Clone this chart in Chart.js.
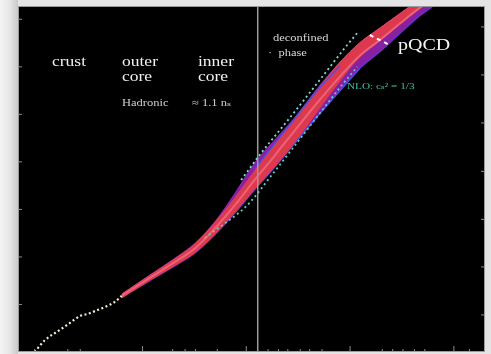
<!DOCTYPE html>
<html>
<head>
<meta charset="utf-8">
<script src="https://cdn.jsdelivr.net/npm/chart.js@4.4.1/dist/chart.umd.min.js"></script>
<style>
  html, body { margin: 0; padding: 0; }
  body { width: 491px; height: 354px; background: #e4e4e4; position: relative; overflow: hidden; }
  .edge { position: absolute; left: 0; top: 0; width: 18px; height: 354px;
          background: linear-gradient(to right, #f4f4f4, #e6e6e6 55%, #c9c9c9); }
  .wrap { position: absolute; left: 18px; top: 6px; width: 467px; height: 346px; filter: blur(0.75px); }
</style>
</head>
<body>
<div class="edge"></div>
<div class="wrap"><canvas id="eos"></canvas></div>
<script>
// log10 energy density (x) and log10 pressure (y)

// crust, white dotted
const crustX = [-0.04, 0.06, 0.20, 0.30, 0.40, 0.47, 0.54, 0.64, 0.73, 0.80];
const crustY = [0, 0.25, 0.46, 0.61, 0.76, 0.80, 0.86, 0.95, 1.05, 1.18];

// main band
const bandX      = [0.80, 1.07, 1.31, 1.51, 1.70, 1.89, 2.08, 2.28, 2.47, 2.69, 2.90, 3.09, 3.29, 3.48, 3.67, 3.79];
const outerUpper = [1.22, 1.62, 1.97, 2.30, 2.75, 3.34, 3.98, 4.48, 4.94, 5.56, 6.09, 6.50, 6.82, 7.12, 7.41, 7.56];
const outerLower = [1.14, 1.50, 1.81, 2.09, 2.47, 2.92, 3.41, 3.90, 4.40, 4.97, 5.50, 5.96, 6.32, 6.70, 7.07, 7.26];
const redUpper   = [1.22, 1.61, 1.96, 2.28, 2.73, 3.24, 3.81, 4.38, 4.92, 5.53, 6.09, 6.50, 6.82, 7.12, 7.41, 7.56];
const redLower   = [1.14, 1.51, 1.82, 2.10, 2.49, 2.94, 3.43, 3.92, 4.42, 5.08, 5.70, 6.20, 6.55, 6.89, 7.22, 7.40];
const bandMid    = [1.18, 1.56, 1.89, 2.19, 2.61, 3.09, 3.62, 4.15, 4.67, 5.26, 5.79, 6.23, 6.57, 6.91, 7.24, 7.41];

// teal dotted bounds
const tealUpX = [1.95, 2.13, 2.42, 2.71, 2.95, 3.08];
const tealUpY = [3.62, 4.15, 4.93, 5.73, 6.40, 6.74];
const tealLoX = [1.60, 1.68, 1.94, 2.04, 2.23, 2.42, 2.69, 2.90, 3.07];
const tealLoY = [2.40, 2.53, 2.95, 3.16, 3.68, 4.21, 4.97, 5.56, 6.00];

// blue edge lines
const blueUpX = [2.08, 2.28, 2.47, 2.69, 2.90];
const blueUpY = [3.85, 4.40, 4.92, 5.52, 6.02];
const blueLoX = [2.47, 2.69, 2.90, 3.09];
const blueLoY = [4.40, 4.97, 5.49, 5.96];

// pQCD marker dashes
const markX = [3.19, 3.28, 3.38];
const markY = [6.67, 6.57, 6.46];

// vertical divider
const dividerX = 2.11;

// axis ticks
const leftTicks = [1, 2, 3, 4, 5, 6, 7];
const rightTicks = [0.78, 1.79, 2.79, 3.80, 4.82, 5.83, 6.84];
const bottomMajor = [1, 2, 3, 4];
const bottomMinor = [-0.04, 0.28, 0.40, 1.29, 1.41, 1.51, 1.72, 2.21, 2.31, 2.40, 2.52, 2.61, 2.73, 3.31, 3.41, 3.51, 3.62, 3.72, 4.15];

const X_MIN = -0.2, X_MAX = 4.3, Y_MIN = 0, Y_MAX = 7.28;

function pts(xs, ys) {
  return xs.map((x, i) => ({ x: x, y: ys[i] }));
}

const decor = {
  id: 'decor',
  beforeDraw(chart) {
    const { ctx, chartArea: a } = chart;
    ctx.save();
    ctx.fillStyle = '#000';
    ctx.fillRect(a.left, a.top, a.right - a.left, a.bottom - a.top);
    ctx.restore();
  },
  afterDraw(chart) {
    const { ctx, chartArea: a, scales } = chart;
    const sx = scales.x, sy = scales.y;
    ctx.save();
    ctx.strokeStyle = '#8c8c8c';
    ctx.lineWidth = 1;
    ctx.beginPath();
    leftTicks.forEach(v => { const p = sy.getPixelForValue(v); ctx.moveTo(a.left, p); ctx.lineTo(a.left + 4, p); });
    rightTicks.forEach(v => { const p = sy.getPixelForValue(v); ctx.moveTo(a.right, p); ctx.lineTo(a.right - 4, p); });
    bottomMajor.forEach(v => { const p = sx.getPixelForValue(v); ctx.moveTo(p, a.bottom); ctx.lineTo(p, a.bottom - 6); });
    bottomMinor.forEach(v => { const p = sx.getPixelForValue(v); ctx.moveTo(p, a.bottom); ctx.lineTo(p, a.bottom - 3); });
    ctx.stroke();
    ctx.strokeStyle = '#9a9a9a';
    ctx.strokeRect(a.left + 0.5, a.top + 0.5, a.right - a.left - 1, a.bottom - a.top - 1);

    function label(txt, x, y, size, color, align) {
      ctx.save();
      ctx.translate(x, y);
      ctx.scale(1.25, 1);
      ctx.font = size + 'px "Liberation Serif", "DejaVu Serif", serif';
      ctx.fillStyle = color;
      ctx.textAlign = align || 'left';
      ctx.textBaseline = 'middle';
      ctx.fillText(txt, 0, 0);
      ctx.restore();
    }
    const w = '#f0f0f0';
    label('crust', a.left + 51, a.top + 56, 14, w, 'center');
    label('outer', a.left + 104, a.top + 56, 14, w);
    label('core', a.left + 104, a.top + 71, 14, w);
    label('inner', a.left + 180, a.top + 56, 14, w);
    label('core', a.left + 180, a.top + 71, 14, w);
    label('Hadronic', a.left + 104, a.top + 97, 10, '#cfcfcf');
    label('\u2248 1.1 n\u209B', a.left + 174, a.top + 97, 10, '#cfcfcf');
    label('deconfined', a.left + 255, a.top + 32, 10, '#d6d6d6');
    label('\u00B7  phase', a.left + 250, a.top + 47, 10, '#d6d6d6');
    label('pQCD', a.left + 380, a.top + 40, 16, '#f4f4f4');
    label('NLO: c\u209B\u00B2 = 1/3', a.left + 329, a.top + 81, 9, '#3cc4a4');
    ctx.restore();
  }
};

const datasets = [
  { data: pts(bandX, outerUpper), borderColor: 'rgba(150,40,190,0.8)', borderWidth: 1,
    backgroundColor: 'rgba(150,35,180,0.9)', fill: '+1', order: 12 },
  { data: pts(bandX, outerLower), borderColor: 'rgba(110,50,220,0.9)', borderWidth: 1.2, fill: false, order: 11 },
  { data: pts(bandX, redUpper), borderColor: 'rgba(232,70,80,0.9)', borderWidth: 1,
    backgroundColor: 'rgba(228,60,70,0.92)', fill: '+1', order: 10 },
  { data: pts(bandX, redLower), borderColor: 'rgba(228,60,70,0.9)', borderWidth: 1, fill: false, order: 9 },
  { data: pts(bandX, bandMid), borderColor: 'rgba(255,150,160,0.45)', borderWidth: 2, fill: false, order: 8 },
  { data: pts(blueUpX, blueUpY), borderColor: 'rgba(70,80,230,0.9)', borderWidth: 1.5, fill: false, order: 7 },
  { data: pts(blueLoX, blueLoY), borderColor: 'rgba(70,80,230,0.9)', borderWidth: 1.5, fill: false, order: 7 },
  { data: pts(tealUpX, tealUpY), borderColor: '#7fdcd8', borderWidth: 1.8, borderDash: [2, 3], fill: false, order: 6 },
  { data: pts(tealLoX, tealLoY), borderColor: '#56cfc0', borderWidth: 1.8, borderDash: [2, 3], fill: false, order: 6 },
  { data: pts(crustX, crustY), borderColor: '#eeecd4', borderWidth: 2.2, borderDash: [2, 2.5], fill: false, order: 5 },
  { data: [{ x: dividerX, y: Y_MIN }, { x: dividerX, y: Y_MAX }], borderColor: '#9a9a9a', borderWidth: 1.5,
    fill: false, order: 4 },
  { data: pts(markX, markY), borderColor: '#ffffff', borderWidth: 2, borderDash: [4, 4], fill: false, order: 3 }
];

new Chart(document.getElementById('eos'), {
  type: 'scatter',
  data: { datasets: datasets.map(d => Object.assign({ showLine: true, pointRadius: 0, cubicInterpolationMode: 'monotone' }, d)) },
  options: {
    responsive: true,
    maintainAspectRatio: false,
    animation: false,
    layout: { padding: 0 },
    plugins: { legend: { display: false }, tooltip: { enabled: false } },
    scales: {
      x: { type: 'linear', display: false, min: X_MIN, max: X_MAX },
      y: { type: 'linear', display: false, min: Y_MIN, max: Y_MAX }
    }
  },
  plugins: [decor]
});
</script>
</body>
</html>
